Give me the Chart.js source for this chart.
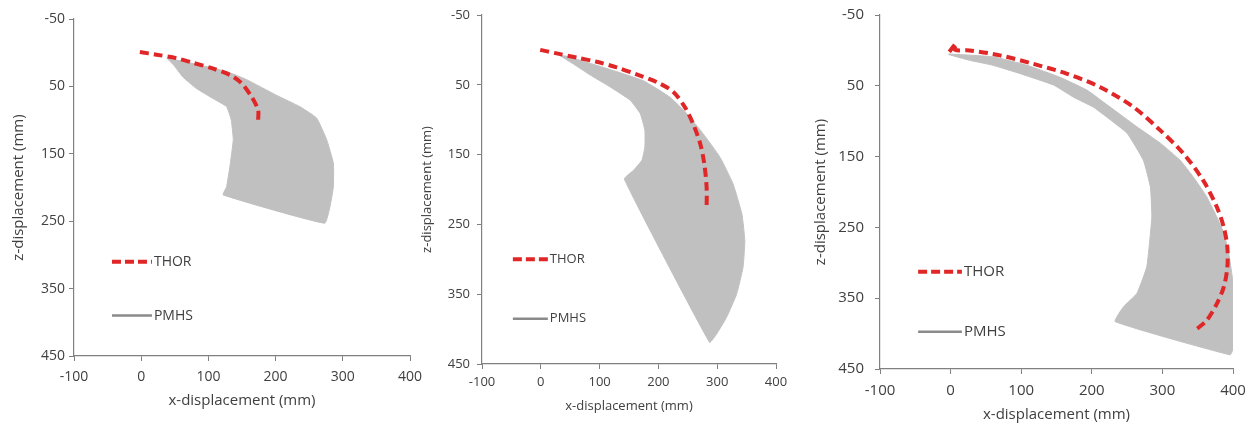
<!DOCTYPE html>
<html>
<head>
<meta charset="utf-8">
<script src="https://cdn.jsdelivr.net/npm/chart.js@4.4.0/dist/chart.umd.min.js"></script>
<style>
  body { margin:0; background:#fff; width:1252px; height:425px; position:relative; overflow:hidden; }
  canvas { position:absolute; top:0; }
</style>
</head>
<body>
<canvas id="c1" width="440" height="425" style="left:0"></canvas>
<canvas id="c2" width="385" height="425" style="left:415px"></canvas>
<canvas id="c3" width="452" height="425" style="left:800px"></canvas>
<script>
// ===================================================
// DATA (mm)
// ===================================================
const X_TICKS = [-100, 0, 100, 200, 300, 400];
const Z_TICKS = [-50, 50, 150, 250, 350, 450];
const SERIES = ['THOR', 'PMHS'];

// panel 1
const thor1X = [-2, 23, 52, 77, 105, 132, 149, 164, 174, 174];
const thor1Z = [-1, 3, 8, 15, 23, 33, 45, 65, 85, 100];
const pmhs1X = [38, 77, 127, 157, 201, 236, 261, 276, 286, 286, 281, 273, 122, 127, 132, 137, 134, 127, 107, 82, 62, 48, 38];
const pmhs1Z = [8, 16, 28, 40, 63, 80, 97, 129, 164, 199, 228, 253, 211, 199, 169, 129, 100, 80, 68, 53, 36, 18, 8];

// panel 2
const thor2X = [-1, 27, 61, 95, 129, 163, 197, 225, 245, 259, 271, 278, 282, 282];
const thor2Z = [0, 5, 11, 17, 25, 35, 46, 60, 82, 106, 134, 163, 197, 228];
const pmhs2X = [44, 106, 174, 220, 248, 276, 305, 327, 342, 347, 344, 333, 316, 299, 287, 142, 157, 172, 177, 177, 169, 152, 118, 84, 55, 33, 44];
const pmhs2Z = [9, 25, 44, 68, 91, 120, 154, 192, 235, 273, 311, 350, 383, 407, 419, 185, 173, 158, 139, 115, 91, 72, 53, 36, 20, 8, 9];

// panel 3
const thor3X = [-2, 8, 6, 27, 70, 117, 165, 212, 259, 297, 330, 358, 377, 387, 392, 392, 387, 377, 363, 347];
const thor3Z = [2, -10, -1, 0, 7, 19, 33, 52, 80, 113, 146, 184, 221, 250, 278, 306, 334, 358, 381, 395];
const pmhs3X = [-3, 60, 108, 155, 193, 226, 264, 297, 325, 344, 363, 377, 387, 394, 399, 403, 405, 401, 396, 233, 245, 264, 278, 285, 283, 273, 250, 221, 202, 174, 146, 99, 60, 27, -2, -3];
const pmhs3Z = [5, 9, 21, 38, 56, 80, 108, 131, 155, 179, 207, 235, 258, 287, 320, 352, 399, 419, 430, 383, 362, 343, 305, 235, 193, 155, 117, 94, 80, 66, 49, 33, 21, 14, 6, 5];

// ===================================================
// HELPERS
// ===================================================
const pts = (xs, zs) => xs.map((x, i) => ({x, y: zs[i]}));
const RED = '#e02626', FILL = '#c0c0c0', LEG_GRAY = '#8a8a8a', AXIS = '#808080', TXT = '#404040';
const FONT = "'Open Sans', 'DejaVu Sans', sans-serif";

// legend drawn inside the plot, positions as chart-area fractions
const inlineLegend = {
  id: 'inlineLegend',
  afterDraw(chart, args, o) {
    const {ctx, chartArea: a} = chart;
    const px = f => a.left + f * (a.right - a.left);
    const py = f => a.top + f * (a.bottom - a.top);
    ctx.save();
    ctx.font = `${o.size}px ${FONT}`;
    ctx.fillStyle = TXT;
    ctx.textBaseline = 'middle';
    // THOR
    ctx.strokeStyle = RED; ctx.lineWidth = 4; ctx.setLineDash([9, 4]);
    ctx.beginPath(); ctx.moveTo(px(o.x0), py(o.y1)); ctx.lineTo(px(o.x1), py(o.y1)); ctx.stroke();
    ctx.fillText(SERIES[0], px(o.x1) + 2, py(o.y1));
    // PMHS
    ctx.setLineDash([]); ctx.strokeStyle = LEG_GRAY; ctx.lineWidth = 2.5;
    ctx.beginPath(); ctx.moveTo(px(o.x0), py(o.y2)); ctx.lineTo(px(o.x1), py(o.y2)); ctx.stroke();
    ctx.fillText(SERIES[1], px(o.x1) + 2, py(o.y2));
    ctx.restore();
  }
};

function makePanel(id, thor, pmhs, cfg) {
  const axisCommon = {
    type: 'linear',
    border: {display: true, color: AXIS, width: 1.2},
    grid: {display: true, drawOnChartArea: false, drawTicks: true, tickLength: 5, color: AXIS},
  };
  new Chart(document.getElementById(id), {
    type: 'scatter',
    data: {
      datasets: [
        {label: SERIES[0], data: thor, showLine: true, borderColor: RED, borderWidth: 4,
         borderDash: [9, 5], pointRadius: 0, tension: 0.3, fill: false},
        {label: SERIES[1], data: pmhs, showLine: true, borderColor: FILL, borderWidth: 1,
         backgroundColor: FILL, pointRadius: 0, tension: 0.12, fill: 'shape'},
      ]
    },
    options: {
      responsive: false, animation: false,
      layout: {padding: cfg.pad},
      plugins: {legend: {display: false}, tooltip: {enabled: false}, inlineLegend: cfg.legend},
      scales: {
        x: {...axisCommon, position: 'bottom', min: -100, max: 400,
            afterBuildTicks: s => { s.ticks = X_TICKS.map(v => ({value: v})); },
            afterFit: s => { s.height = cfg.xh; s.paddingLeft = 0; s.paddingRight = 0; },
            ticks: {color: TXT, font: {family: FONT, size: cfg.size}, padding: cfg.xpad, maxRotation: 0},
            title: {display: true, text: 'x-displacement (mm)', color: TXT, padding: 0,
                    font: {family: FONT, size: cfg.tsize}}},
        y: {...axisCommon, position: 'left', reverse: true, min: -50, max: 450,
            afterBuildTicks: s => { s.ticks = Z_TICKS.map(v => ({value: v})); },
            afterFit: s => { s.width = cfg.yw; s.paddingTop = 0; s.paddingBottom = 0; },
            ticks: {color: TXT, font: {family: FONT, size: cfg.size}, padding: cfg.ypad},
            title: {display: true, text: 'z-displacement (mm)', color: TXT, padding: 0,
                    font: {family: FONT, size: cfg.tsize}}},
      }
    },
    plugins: [inlineLegend]
  });
}

// ===================================================
// BUILD
// ===================================================
makePanel('c1', pts(thor1X, thor1Z), pts(pmhs1X, pmhs1Z), {
  pad: {left: 10, right: 30, top: 19, bottom: 15}, yw: 64, xh: 54, xpad: 8, ypad: 4,
  size: 14, tsize: 15,
  legend: {x0: 0.113, x1: 0.232, y1: 0.72, y2: 0.88, size: 14}
});
makePanel('c2', pts(thor2X, thor2Z), pts(pmhs2X, pmhs2Z), {
  pad: {left: 4, right: 24, top: 15, bottom: 11}, yw: 63, xh: 50, xpad: 5, ypad: 7,
  size: 13, tsize: 13,
  legend: {x0: 0.105, x1: 0.224, y1: 0.70, y2: 0.87, size: 13}
});
makePanel('c3', pts(thor3X, thor3Z), pts(pmhs3X, pmhs3Z), {
  pad: {left: 12, right: 19, top: 15, bottom: 1}, yw: 68, xh: 55, xpad: 8, ypad: 11,
  size: 15, tsize: 15,
  legend: {x0: 0.108, x1: 0.232, y1: 0.725, y2: 0.895, size: 15}
});
</script>
</body>
</html>
